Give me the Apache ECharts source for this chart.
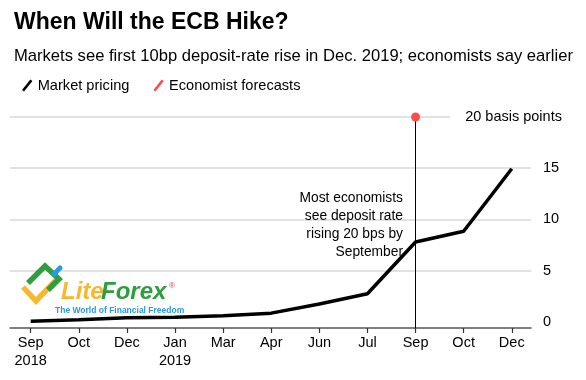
<!DOCTYPE html>
<html>
<head>
<meta charset="utf-8">
<script src="https://cdn.jsdelivr.net/npm/echarts@6/dist/echarts.min.js"></script>
<style>
html,body{margin:0;padding:0;background:#fff;}
#chart{width:586px;height:380px;}
</style>
</head>
<body>
<div id="chart"></div>
<script>
var categories = ['Sep\n2018','Oct','Dec','Jan\n2019','Mar','Apr','Jun','Jul','Sep','Oct','Dec'];
var marketPricing = [0.05, 0.2, 0.4, 0.45, 0.6, 0.85, 1.75, 2.75, 7.8, 8.85, 14.95];
var economistIndex = 8;
var economistValue = 20;
var yTickValues = [0, 5, 10, 15];
var gridValues = [5, 10, 15];

var FONT = '"Liberation Sans", Arial, sans-serif';
var chart = echarts.init(document.getElementById('chart'), null, {renderer:'canvas'});

var lineData = marketPricing.map(function(v,i){return [i,v];});
var xIdx = categories.map(function(c,i){return i;});

chart.setOption({
  animation:false,
  backgroundColor:'#fff',
  textStyle:{fontFamily:FONT},
  title:[
    {text:'When Will the ECB Hike?', left:9, top:6,
     textStyle:{fontFamily:FONT, fontSize:23, fontWeight:'bold', color:'#000'}},
    {text:'Markets see first 10bp deposit-rate rise in Dec. 2019; economists say earlier', left:9, top:43,
     textStyle:{fontFamily:FONT, fontSize:16.6, fontWeight:'normal', color:'#000'}}
  ],
  legend:{
    left:17, top:73, itemWidth:11, itemHeight:12, itemGap:24,
    textStyle:{fontFamily:FONT, fontSize:14.6, color:'#000'},
    data:[
      {name:'Market pricing', icon:'path://M0,10 L8,0 L10,1.5 L2,11.5 Z', itemStyle:{color:'#000'}},
      {name:'Economist forecasts', icon:'path://M0,10 L8,0 L10,1.5 L2,11.5 Z', itemStyle:{color:'#ff4d4d'}}
    ]
  },
  grid:{left:10, right:55, top:117, bottom:52, containLabel:false},
  xAxis:{
    type:'value', min:-0.43, max:10.4,
    axisLine:{show:true, onZero:false, lineStyle:{color:'#555', width:1.5}},
    axisTick:{show:true, length:5, customValues:xIdx, lineStyle:{color:'#333', width:1.2}},
    axisLabel:{customValues:xIdx, color:'#000', fontSize:14.5, lineHeight:18, margin:6,
      formatter:function(v){return categories[Math.round(v)] || '';}},
    splitLine:{show:false}
  },
  yAxis:{
    type:'value', position:'right', min:-0.6, max:20,
    axisLine:{show:false},
    axisTick:{show:false, customValues:gridValues},
    axisLabel:{customValues:yTickValues, color:'#000', fontSize:14.5, margin:12},
    splitLine:{show:true, lineStyle:{color:'#d9d9d9', width:1.5}}
  },
  series:[
    {
      name:'Economist forecasts', type:'line', data:[[economistIndex, economistValue]],
      symbol:'circle', symbolSize:9, itemStyle:{color:'#ff4d4d'}, lineStyle:{color:'#ff4d4d'},
      z:5,
      markLine:{
        silent:true, symbol:'none', animation:false,
        data:[
          [{coord:[-0.43, economistValue], lineStyle:{color:'#d9d9d9', width:1.5, type:'solid'},
            label:{show:true, position:'end', formatter:'20 basis points', color:'#000', fontSize:14.5, distance:15}},
           {coord:[8.72, economistValue]}],
          [{coord:[economistIndex, economistValue], lineStyle:{color:'#000', width:1, type:'solid'}, label:{show:false}},
           {coord:[economistIndex, -0.6]}]
        ]
      }
    },
    {
      name:'Market pricing', type:'line', data:lineData, symbol:'none',
      lineStyle:{color:'#000', width:3.5}, itemStyle:{color:'#000'}, z:4
    }
  ],
  graphic:[
    {type:'text', x:403, y:189, z:10,
     style:{text:'Most economists\nsee deposit rate\nrising 20 bps by\nSeptember', align:'right',
            fill:'#000', font:'13.8px ' + FONT, lineHeight:18}},
    // watermark logo
    {type:'polyline', z:1, shape:{points:[[23,287],[36,301],[57,279]]}, style:{stroke:'#f5b82e', lineWidth:5.5, fill:null}},
    {type:'polyline', z:1, shape:{points:[[28,283],[45,266],[59,279],[48,290]]}, style:{stroke:'#2e9e3e', lineWidth:5.5, fill:null}},
    {type:'polyline', z:1, shape:{points:[[54,274],[60,268]]}, style:{stroke:'#2a9ae0', lineWidth:5, fill:null, lineCap:'round'}},
    {type:'text', z:1, x:61, y:280, style:{text:'Lite', fill:'#f5b82e', font:'italic bold 24px ' + FONT}},
    {type:'text', z:1, x:101, y:280, style:{text:'Forex', fill:'#2e9e3e', font:'italic bold 24px ' + FONT}},
    {type:'text', z:1, x:169, y:282, style:{text:'\u00AE', fill:'#e04040', font:'8px ' + FONT}},
    {type:'text', z:1, x:55, y:306, style:{text:'The World of Financial Freedom', fill:'#2a9ae0', font:'bold 8.5px ' + FONT}}
  ]
});
</script>
</body>
</html>
